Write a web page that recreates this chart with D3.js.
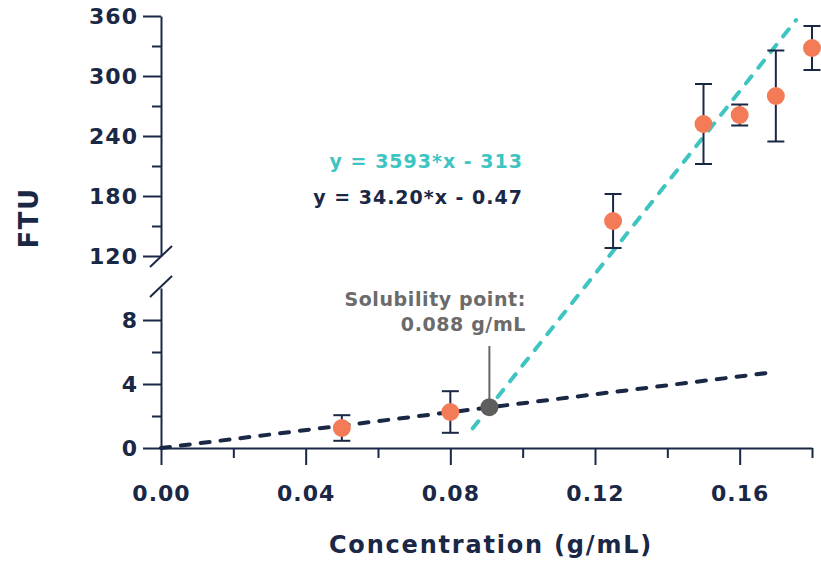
<!DOCTYPE html>
<html>
<head>
<meta charset="utf-8">
<script src="https://cdn.jsdelivr.net/npm/d3@7"></script>
<style>
  body { margin: 0; background: #fff; }
  text { font-family: "DejaVu Sans", sans-serif; font-weight: bold; }
</style>
</head>
<body>
<svg id="chart" width="821" height="561"></svg>
<script>
// measured points, split by which part of the broken y axis they sit on
const concLow = [0.05, 0.08];
const ftuLow = [1.25, 2.25];
const errLow = [0.8, 1.3];

const concHigh = [0.125, 0.15, 0.16, 0.17, 0.18];
const ftuHigh = [155, 252, 261, 280, 328];
const errHigh = [27, 40, 10.5, 45.5, 22];

// dashed fit lines as drawn (start, end)
const fitLow = [[0, 0], [0.168, 4.7]];
const fitHigh = [[0.0862, 1.23], [0.1756, 356]];
const solubility = [0.0908, 2.55];

const xTicks = [0, 0.02, 0.04, 0.06, 0.08, 0.1, 0.12, 0.14, 0.16, 0.18];
const xMajor = [0, 0.04, 0.08, 0.12, 0.16];
const yHiTicks = [120, 150, 180, 210, 240, 270, 300, 330, 360];
const yHiMajor = [120, 180, 240, 300, 360];
const yLoTicks = [0, 2, 4, 6, 8];
const yLoMajor = [0, 4, 8];

const navy = "#1a2846", orange = "#f47b57", teal = "#3ec4c1", grey = "#5e5e5e";

let svg = d3.select("#chart");

let x = d3.scaleLinear().domain([0, 0.18]).range([161, 812]);
let yHi = d3.scaleLinear().domain([120, 360]).range([256, 16]);
let yLo = d3.scaleLinear().domain([0, 10]).range([448, 288]);
let y = v => v <= 10 ? yLo(v) : yHi(v);

const isMajor = (list, d) => list.some(m => Math.abs(m - d) < 1e-9);

// x axis
let gx = svg.append("g")
  .attr("transform", "translate(0," + yLo(0) + ")")
  .call(d3.axisBottom(x).tickValues(xTicks).tickSizeOuter(0)
    .tickFormat(d => isMajor(xMajor, d) ? d3.format(".2f")(d) : ""));
gx.select(".domain").attr("stroke", navy).attr("stroke-width", 2);
gx.selectAll(".tick line").attr("stroke", navy).attr("stroke-width", 2)
  .attr("y2", d => isMajor(xMajor, d) ? 17 : 10);
gx.selectAll(".tick text").attr("fill", navy).attr("font-size", 22)
  .attr("letter-spacing", 1).attr("y", 53).attr("dy", 0);

// y axes, upper and lower pieces
function yAxis(scale, ticks, major) {
  let g = svg.append("g")
    .attr("transform", "translate(" + x(0) + ",0)")
    .call(d3.axisLeft(scale).tickValues(ticks).tickSizeOuter(0)
      .tickFormat(d => isMajor(major, d) ? d : ""));
  g.select(".domain").attr("stroke", navy).attr("stroke-width", 2);
  g.selectAll(".tick line").attr("stroke", navy).attr("stroke-width", 2)
    .attr("x2", d => isMajor(major, d) ? -18 : -9);
  g.selectAll(".tick text").attr("fill", navy).attr("font-size", 22)
    .attr("letter-spacing", 1).attr("x", -23);
  return g;
}
yAxis(yHi, yHiTicks, yHiMajor);
yAxis(yLo, yLoTicks, yLoMajor);

// break marks
[yHi(120), yLo(10) - 2].forEach(cy => {
  svg.append("line")
    .attr("x1", x(0) - 11).attr("y1", cy + 11)
    .attr("x2", x(0) + 11).attr("y2", cy - 10)
    .attr("stroke", navy).attr("stroke-width", 2);
});

// fit lines
let line = d3.line().x(d => x(d[0])).y(d => y(d[1]));
svg.append("path").datum(fitLow)
  .attr("d", line).attr("fill", "none")
  .attr("stroke", navy).attr("stroke-width", 4)
  .attr("stroke-linecap", "round").attr("stroke-dasharray", "9,11");
svg.append("path").datum(fitHigh)
  .attr("d", line).attr("fill", "none")
  .attr("stroke", teal).attr("stroke-width", 4)
  .attr("stroke-linecap", "round").attr("stroke-dasharray", "9,11");

// error bars + points
let pts = concLow.map((c, i) => ({ c: c, v: ftuLow[i], e: errLow[i] }))
  .concat(concHigh.map((c, i) => ({ c: c, v: ftuHigh[i], e: errHigh[i] })));

let bars = svg.selectAll(".err").data(pts).enter().append("g").attr("class", "err")
  .attr("stroke", navy).attr("stroke-width", 2);
bars.append("line")
  .attr("x1", d => x(d.c)).attr("x2", d => x(d.c))
  .attr("y1", d => y(d.v - d.e)).attr("y2", d => y(d.v + d.e));
bars.append("line")
  .attr("x1", d => x(d.c) - 8.5).attr("x2", d => x(d.c) + 8.5)
  .attr("y1", d => y(d.v + d.e)).attr("y2", d => y(d.v + d.e));
bars.append("line")
  .attr("x1", d => x(d.c) - 8.5).attr("x2", d => x(d.c) + 8.5)
  .attr("y1", d => y(d.v - d.e)).attr("y2", d => y(d.v - d.e));

svg.selectAll(".pt").data(pts).enter().append("circle").attr("class", "pt")
  .attr("cx", d => x(d.c)).attr("cy", d => y(d.v))
  .attr("r", 9).attr("fill", orange);

// solubility point
svg.append("line")
  .attr("x1", x(solubility[0])).attr("x2", x(solubility[0]))
  .attr("y1", 346).attr("y2", y(solubility[1]))
  .attr("stroke", "#666").attr("stroke-width", 2);
svg.append("circle")
  .attr("cx", x(solubility[0])).attr("cy", y(solubility[1]))
  .attr("r", 9).attr("fill", grey);

svg.append("text").attr("x", 526).attr("y", 306)
  .attr("text-anchor", "end").attr("fill", "#6b6b6b")
  .attr("font-size", 19).attr("letter-spacing", 0.6)
  .text("Solubility point:");
svg.append("text").attr("x", 526).attr("y", 331)
  .attr("text-anchor", "end").attr("fill", "#6b6b6b")
  .attr("font-size", 19).attr("letter-spacing", 0.6)
  .text("0.088 g/mL");

// equations
svg.append("text").attr("x", 523).attr("y", 168)
  .attr("text-anchor", "end").attr("fill", teal)
  .attr("font-size", 19).attr("letter-spacing", 1)
  .text("y = 3593*x - 313");
svg.append("text").attr("x", 523).attr("y", 204)
  .attr("text-anchor", "end").attr("fill", navy)
  .attr("font-size", 19).attr("letter-spacing", 1)
  .text("y = 34.20*x - 0.47");

// axis titles
svg.append("text").attr("x", 491).attr("y", 553)
  .attr("text-anchor", "middle").attr("fill", navy)
  .attr("font-size", 24).attr("letter-spacing", 1.8)
  .text("Concentration (g/mL)");
svg.append("text")
  .attr("transform", "translate(38,218) rotate(-90)")
  .attr("text-anchor", "middle").attr("fill", navy)
  .attr("font-size", 26).attr("letter-spacing", 1.5)
  .text("FTU");
</script>
</body>
</html>
